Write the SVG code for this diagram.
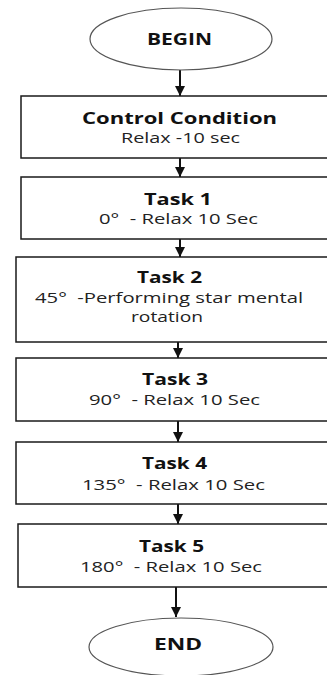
<svg xmlns="http://www.w3.org/2000/svg" width="327" height="675" viewBox="0 0 327 675">
<style>
.box{fill:#fff;stroke:#1a1a1a;stroke-width:1.5}
.term{fill:#fff;stroke:#555;stroke-width:1.2}
.t{font-family:"Open Sans","Liberation Sans",sans-serif;font-weight:bold;font-size:16px;fill:#111}
.s{font-family:"Open Sans","Liberation Sans",sans-serif;font-size:14px;fill:#222}
.c{stroke:#111;stroke-width:2;fill:none}
</style>
<defs>
<marker id="ah" markerUnits="userSpaceOnUse" markerWidth="12" markerHeight="10" refX="10" refY="5" orient="auto">
<path d="M0,0 L10,5 L0,10 Z" fill="#111"/>
</marker>
</defs>
<g id="connectors">
<line class="c" x1="180" y1="70" x2="180" y2="96" marker-end="url(#ah)"/>
<line class="c" x1="180" y1="158" x2="180" y2="177" marker-end="url(#ah)"/>
<line class="c" x1="180" y1="239" x2="180" y2="257" marker-end="url(#ah)"/>
<line class="c" x1="178" y1="342" x2="178" y2="358" marker-end="url(#ah)"/>
<line class="c" x1="178" y1="421" x2="178" y2="442" marker-end="url(#ah)"/>
<line class="c" x1="178" y1="504" x2="178" y2="524" marker-end="url(#ah)"/>
<line class="c" x1="176" y1="587" x2="176" y2="617" marker-end="url(#ah)"/>
</g>
<g id="begin">
<ellipse class="term" cx="181" cy="39" rx="91" ry="31"/>
<text class="t" x="147" y="45" textLength="65" lengthAdjust="spacingAndGlyphs">BEGIN</text>
</g>
<g id="control">
<rect class="box" x="21" y="96" width="320" height="62"/>
<text class="t" x="82" y="124" textLength="195" lengthAdjust="spacingAndGlyphs">Control Condition</text>
<text class="s" x="121" y="143" textLength="119" lengthAdjust="spacingAndGlyphs">Relax -10 sec</text>
</g>
<g id="task1">
<rect class="box" x="21" y="177" width="320" height="62"/>
<text class="t" x="144" y="205" textLength="68" lengthAdjust="spacingAndGlyphs">Task 1</text>
<text class="s" x="99" y="224" textLength="159" lengthAdjust="spacingAndGlyphs" xml:space="preserve">0°  - Relax 10 Sec</text>
</g>
<g id="task2">
<rect class="box" x="16" y="257" width="325" height="85"/>
<text class="t" x="137" y="283" textLength="65" lengthAdjust="spacingAndGlyphs">Task 2</text>
<text class="s" x="35" y="303" textLength="268" lengthAdjust="spacingAndGlyphs" xml:space="preserve">45°  -Performing star mental</text>
<text class="s" x="131" y="322" textLength="72" lengthAdjust="spacingAndGlyphs">rotation</text>
</g>
<g id="task3">
<rect class="box" x="16" y="358" width="325" height="63"/>
<text class="t" x="142" y="385" textLength="66" lengthAdjust="spacingAndGlyphs">Task 3</text>
<text class="s" x="89" y="405" textLength="171" lengthAdjust="spacingAndGlyphs" xml:space="preserve">90°  - Relax 10 Sec</text>
</g>
<g id="task4">
<rect class="box" x="16" y="442" width="325" height="62"/>
<text class="t" x="142" y="469" textLength="65" lengthAdjust="spacingAndGlyphs">Task 4</text>
<text class="s" x="82" y="490" textLength="183" lengthAdjust="spacingAndGlyphs" xml:space="preserve">135°  - Relax 10 Sec</text>
</g>
<g id="task5">
<rect class="box" x="18" y="524" width="323" height="63"/>
<text class="t" x="139" y="552" textLength="65" lengthAdjust="spacingAndGlyphs">Task 5</text>
<text class="s" x="80" y="572" textLength="182" lengthAdjust="spacingAndGlyphs" xml:space="preserve">180°  - Relax 10 Sec</text>
</g>
<g id="end">
<ellipse class="term" cx="181" cy="647" rx="92" ry="29"/>
<text class="t" x="154" y="650" textLength="48" lengthAdjust="spacingAndGlyphs">END</text>
</g>
</svg>
